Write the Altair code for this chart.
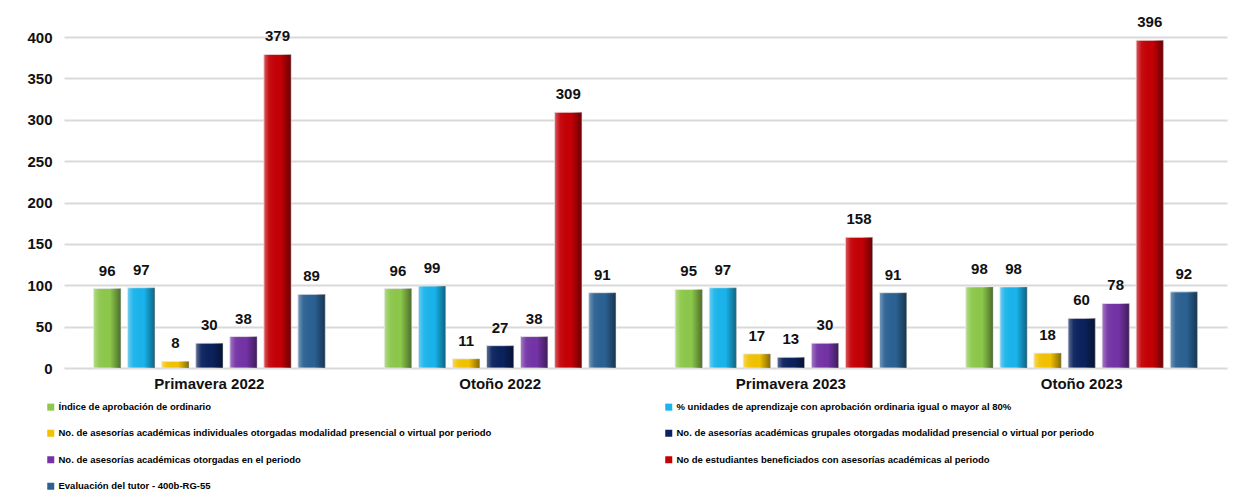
import altair as alt
import pandas as pd

periods = ["Primavera 2022", "Otoño 2022", "Primavera 2023", "Otoño 2023"]
series = [
    "Índice de aprobación de ordinario",
    "% unidades de aprendizaje con aprobación ordinaria igual o mayor al 80%",
    "No. de asesorías académicas individuales otorgadas modalidad  presencial o virtual por periodo",
    "No. de asesorías académicas grupales otorgadas modalidad  presencial o virtual por periodo",
    "No. de asesorías académicas otorgadas en el periodo",
    "No de estudiantes beneficiados con asesorías académicas al periodo",
    "Evaluación del tutor - 400b-RG-55",
]
indice = [96, 96, 95, 98]
unidades = [97, 99, 97, 98]
individuales = [8, 11, 17, 18]
grupales = [30, 27, 13, 60]
otorgadas = [38, 38, 30, 78]
estudiantes = [379, 309, 158, 396]
evaluacion = [89, 91, 91, 92]
colors = ["#8cc84b", "#19b4ec", "#f2c200", "#0b225e", "#7433a6", "#c40006", "#2b6193"]

all_values = [indice, unidades, individuales, grupales, otorgadas, estudiantes, evaluacion]
rows = []
for s, vals in zip(series, all_values):
    for p, v in zip(periods, vals):
        rows.append({"periodo": p, "serie": s, "valor": v})
df = pd.DataFrame(rows)

FONT = "Liberation Sans"

x = alt.X("periodo:N", sort=periods,
          scale=alt.Scale(paddingInner=0.18, paddingOuter=0.09),
          axis=alt.Axis(title=None, labelAngle=0, ticks=False, domain=False,
                        labelFont=FONT, labelFontSize=15, labelFontWeight="bold",
                        labelColor="#111111", labelPadding=8))
xo = alt.XOffset("serie:N", sort=series, scale=alt.Scale(paddingInner=0.2, paddingOuter=0.1))
y = alt.Y("valor:Q", scale=alt.Scale(domain=[0, 400], nice=False),
          axis=alt.Axis(title=None, values=list(range(0, 401, 50)), ticks=False, domain=False,
                        labelFont=FONT, labelFontSize=15, labelFontWeight="bold",
                        labelColor="#111111", labelPadding=12,
                        gridColor="#d9d9d9", gridWidth=2))

bars = alt.Chart(df).mark_bar(stroke="#e8e8e8", strokeWidth=0.8).encode(
    x=x, xOffset=xo, y=y,
    color=alt.Color("serie:N", sort=series,
                    scale=alt.Scale(domain=series, range=colors),
                    legend=alt.Legend(title=None, orient="none", legendX=-18, legendY=365,
                                      direction="horizontal",
                                      columns=2, columnPadding=169, rowPadding=15.5,
                                      symbolType="square", symbolSize=49, symbolStrokeWidth=0,
                                      labelFont=FONT, labelFontSize=9.5,
                                      labelFontWeight="bold", labelColor="#000000",
                                      labelLimit=700, labelOffset=3)),
)

shade = alt.Chart(df).mark_bar(
    color=alt.Gradient(
        gradient="linear", x1=0, x2=1, y1=0, y2=0,
        stops=[alt.GradientStop(offset=0, color="rgba(255,255,255,0.35)"),
               alt.GradientStop(offset=0.2, color="rgba(255,255,255,0.05)"),
               alt.GradientStop(offset=0.6, color="rgba(0,0,0,0.0)"),
               alt.GradientStop(offset=1, color="rgba(0,0,0,0.45)")])
).encode(x=x, xOffset=xo, y=y)

labels = alt.Chart(df).mark_text(
    dy=-13, baseline="alphabetic", font=FONT, fontSize=15, fontWeight="bold", color="#111111"
).encode(x=x, xOffset=xo, y=y, text=alt.Text("valor:Q"))

chart = alt.layer(bars, shade, labels).properties(
    width=1163, height=331,
    autosize=alt.AutoSizeParams(type="none"),
    padding={"left": 56, "top": 29, "right": 9, "bottom": 125},
    background="white",
).configure_view(stroke=None)

chart.save("out.html", embed_options={"renderer": "svg", "actions": False})
